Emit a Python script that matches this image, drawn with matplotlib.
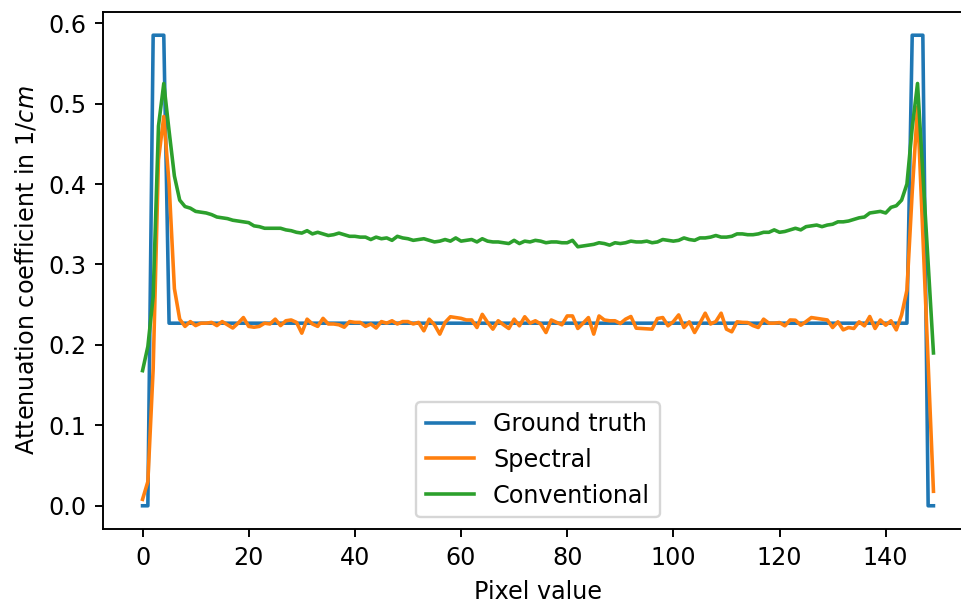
import matplotlib
matplotlib.use("Agg")
import matplotlib.pyplot as plt
import numpy as np

pixels = list(range(150))

ground_truth = ([0.0, 0.0] + [0.585] * 3 + [0.227] * 140 + [0.585] * 3 + [0.0, 0.0])

spectral = [
    0.008, 0.03, 0.17, 0.43, 0.484, 0.40, 0.27, 0.232, 0.223, 0.229,
    0.224, 0.227, 0.227, 0.228, 0.224, 0.229, 0.225, 0.221, 0.227, 0.234,
    0.223, 0.222, 0.223, 0.227, 0.226, 0.232, 0.224, 0.230, 0.231, 0.228,
    0.2146, 0.232, 0.226, 0.223, 0.233, 0.226, 0.226, 0.225, 0.222, 0.229,
    0.228, 0.228, 0.223, 0.226, 0.221, 0.229, 0.227, 0.230, 0.226, 0.229,
    0.229, 0.226, 0.228, 0.2175, 0.232, 0.225, 0.2134, 0.228, 0.235, 0.234,
    0.233, 0.231, 0.231, 0.2216, 0.238, 0.228, 0.2196, 0.230, 0.225, 0.2204,
    0.232, 0.2237, 0.235, 0.227, 0.230, 0.226, 0.2154, 0.231, 0.228, 0.225,
    0.236, 0.236, 0.2204, 0.227, 0.234, 0.2134, 0.236, 0.231, 0.230, 0.230,
    0.2266, 0.232, 0.2353, 0.2208, 0.2204, 0.220, 0.2196, 0.2328, 0.234, 0.2237,
    0.229, 0.2373, 0.2216, 0.2287, 0.2154, 0.227, 0.2394, 0.226, 0.229, 0.2394,
    0.2196, 0.2163, 0.2287, 0.228, 0.2278, 0.224, 0.2216, 0.232, 0.227, 0.227,
    0.2278, 0.2237, 0.231, 0.2307, 0.2245, 0.229, 0.234, 0.233, 0.232, 0.231,
    0.2216, 0.2287, 0.2187, 0.2216, 0.2204, 0.2287, 0.2237, 0.2353, 0.2204, 0.231,
    0.2245, 0.230, 0.2187, 0.2373, 0.268, 0.39, 0.496, 0.337, 0.178, 0.018,
]

conventional = [
    0.168, 0.198, 0.26, 0.472, 0.525, 0.466, 0.41, 0.38, 0.372, 0.370,
    0.366, 0.365, 0.364, 0.362, 0.359, 0.358, 0.357, 0.355, 0.354, 0.353,
    0.352, 0.348, 0.347, 0.345, 0.345, 0.345, 0.345, 0.343, 0.342, 0.340,
    0.339, 0.342, 0.338, 0.340, 0.338, 0.336, 0.337, 0.339, 0.337, 0.335,
    0.335, 0.334, 0.334, 0.331, 0.334, 0.332, 0.333, 0.330, 0.335, 0.333,
    0.332, 0.330, 0.331, 0.332, 0.330, 0.328, 0.329, 0.331, 0.329, 0.333,
    0.329, 0.330, 0.331, 0.328, 0.332, 0.329, 0.328, 0.328, 0.327, 0.326,
    0.330, 0.326, 0.329, 0.328, 0.330, 0.329, 0.327, 0.328, 0.328, 0.327,
    0.327, 0.330, 0.322, 0.323, 0.324, 0.325, 0.327, 0.326, 0.324, 0.327,
    0.326, 0.327, 0.329, 0.328, 0.328, 0.329, 0.327, 0.328, 0.331, 0.330,
    0.329, 0.330, 0.333, 0.331, 0.330, 0.333, 0.333, 0.334, 0.336, 0.334,
    0.334, 0.335, 0.338, 0.338, 0.337, 0.337, 0.338, 0.340, 0.340, 0.343,
    0.340, 0.341, 0.343, 0.345, 0.343, 0.347, 0.348, 0.349, 0.347, 0.349,
    0.350, 0.353, 0.353, 0.354, 0.356, 0.358, 0.359, 0.364, 0.365, 0.366,
    0.364, 0.371, 0.373, 0.380, 0.40, 0.47, 0.525, 0.413, 0.302, 0.19,
]

W, H, DPI = 961, 606, 172
fig = plt.figure(figsize=(W / DPI, H / DPI), dpi=DPI)
ax = fig.add_axes([103 / W, (H - 529.3) / H, (973 - 103) / W, (529.3 - 11.7) / H])

ax.plot(pixels, ground_truth, label="Ground truth")
ax.plot(pixels, spectral, label="Spectral")
ax.plot(pixels, conventional, label="Conventional")

ax.set_xlabel("Pixel value")
ax.set_ylabel(r"Attenuation coefficient in 1/$cm$")
ax.legend(loc="lower center")

fig.savefig("out.png", dpi=DPI)
